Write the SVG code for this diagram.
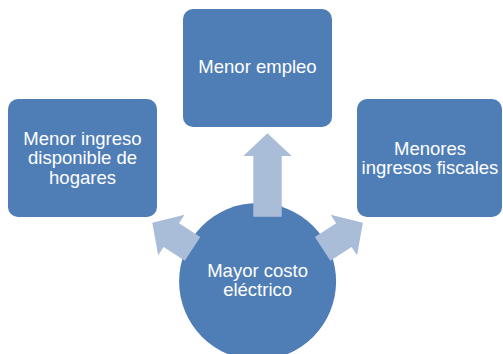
<svg xmlns="http://www.w3.org/2000/svg" width="503" height="354" viewBox="0 0 503 354">
<style>
.box{fill:#4f7eb7}
.arr{fill:#aabdd8}
.t{font-family:"Liberation Sans",Arial,sans-serif;font-size:18.5px;fill:#ffffff;text-anchor:middle}
</style>
<defs>
<path id="short-arrow" class="arr" d="M0,0 L24.2,22.7 L14.2,22.7 L14.2,48 L-14.2,48 L-14.2,22.7 L-24.2,22.7 Z"/>
</defs>
<rect width="503" height="354" fill="#ffffff"/>
<g id="node-top">
<rect class="box" x="183" y="9" width="149" height="118" rx="10"/>
<text class="t" x="257.5" y="73.3">Menor empleo</text>
</g>
<g id="node-left">
<rect class="box" x="8" y="99" width="149" height="118" rx="10"/>
<text class="t" x="82.5" y="145">Menor ingreso</text>
<text class="t" x="82.5" y="164.3">disponible de</text>
<text class="t" x="82.5" y="183.5">hogares</text>
</g>
<g id="node-right">
<rect class="box" x="357" y="99" width="145" height="118" rx="10"/>
<text class="t" x="430" y="154.5">Menores</text>
<text class="t" x="430" y="173.5">ingresos fiscales</text>
</g>
<g id="node-center">
<circle class="box" cx="257.6" cy="281.5" r="78.5"/>
</g>
<g id="connectors">
<path class="arr" d="M0,0 L24.2,22.7 L14.2,22.7 L14.2,83.4 L-14.2,83.4 L-14.2,22.7 L-24.2,22.7 Z" transform="translate(267.5,133.3)"/>
<use href="#short-arrow" transform="translate(152.3,222.7) rotate(-57)"/>
<use href="#short-arrow" transform="translate(362.9,222.7) rotate(57)"/>
</g>
<g id="center-label">
<text class="t" x="257.6" y="276.5">Mayor costo</text>
<text class="t" x="257.6" y="295.8">eléctrico</text>
</g>
</svg>
